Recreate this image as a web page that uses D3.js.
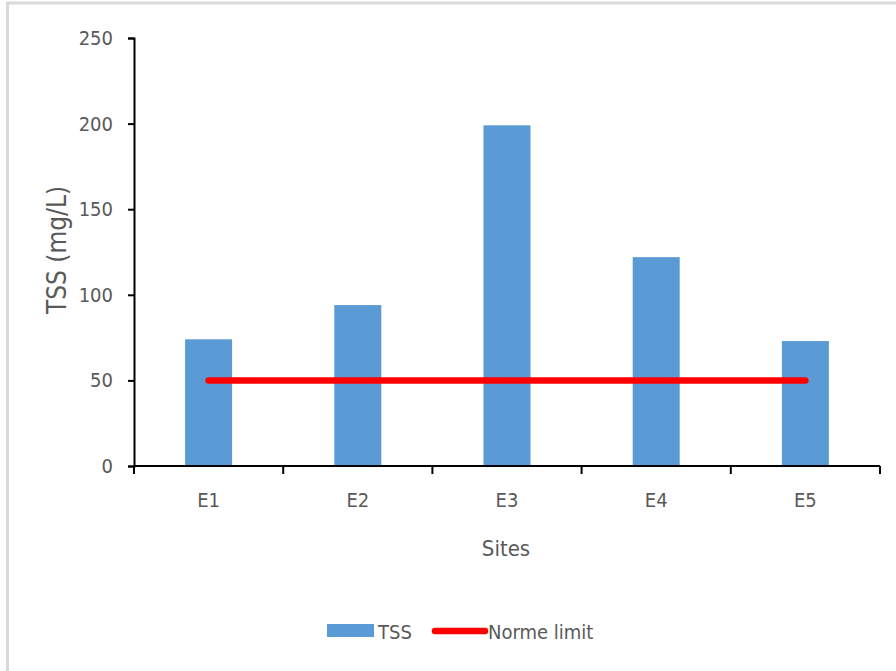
<!DOCTYPE html>
<html><head><meta charset="utf-8">
<script src="https://cdn.jsdelivr.net/npm/d3@7"></script>
<style>
html,body{margin:0;padding:0;background:#fff;}
svg{display:block;}
text{font-family:"DejaVu Sans Condensed","DejaVu Sans",sans-serif;fill:#595959;}
</style></head>
<body>
<svg id="chart" width="896" height="671"></svg>
<script>
const categories = ["E1","E2","E3","E4","E5"];
const tssValues = [74, 94, 199, 122, 73];
const normeLimit = [50, 50, 50, 50, 50];
const yTicks = [0, 50, 100, 150, 200, 250];
const seriesNames = ["TSS", "Norme limit"];

(function(){
const svg = d3.select("#chart");
svg.append("rect").attr("x",7.5).attr("y",3).attr("width",900).attr("height",700)
  .attr("fill","#fff").attr("stroke","#d9d9d9").attr("stroke-width",3);

const pl = 134, pr = 880, pt = 38, pb = 466;
const x = d3.scaleBand().domain(categories).range([pl, pr]).paddingInner(0).paddingOuter(0);
const xc = d3.scalePoint().domain(categories).range([pl, pr]).padding(0.5);
const y = d3.scaleLinear().domain([0, 250]).range([pb, pt]);

// bars
svg.append("g").selectAll("rect").data(categories).join("rect")
  .attr("x", d => xc(d) - 23.5)
  .attr("width", 47)
  .attr("y", (d,i) => y(tssValues[i]))
  .attr("height", (d,i) => pb - y(tssValues[i]))
  .attr("fill", "#5b9bd5");

// y axis
const yAxis = svg.append("g").attr("transform", `translate(${pl},0)`)
  .call(d3.axisLeft(y).tickValues(yTicks).tickSize(6).tickPadding(15));
yAxis.select(".domain").attr("stroke","#000").attr("stroke-width",2);
yAxis.selectAll(".tick line").attr("stroke","#000").attr("stroke-width",2);
yAxis.selectAll("text").style("font-size","20px").style("fill","#595959");

// x axis
const xAxis = svg.append("g").attr("transform", `translate(0,${pb})`)
  .call(d3.axisBottom(x).tickSize(0).tickPadding(27));
xAxis.select(".domain").attr("stroke","#000").attr("stroke-width",2).attr("d", `M${pl},0H${pr}`);
xAxis.selectAll("text").style("font-size","20px").style("fill","#595959");
// boundary ticks
const step = x.step();
const bTicks = d3.range(categories.length+1).map(i => pl + i*step);
svg.append("g").selectAll("line").data(bTicks).join("line")
  .attr("x1", d=>d).attr("x2", d=>d).attr("y1", pb).attr("y2", pb+8)
  .attr("stroke","#000").attr("stroke-width",2);

// norm line
const line = d3.line().x((d,i) => xc(categories[i])).y(d => y(d));
svg.append("path").datum(normeLimit).attr("d", line)
  .attr("fill","none").attr("stroke","#ff0000").attr("stroke-width",6.5).attr("stroke-linecap","round");

// axis titles
svg.append("text").attr("x", (pl+pr)/2 - 1).attr("y", 556).attr("text-anchor","middle")
  .style("font-size","22px").text("Sites");
svg.append("text").attr("transform", `translate(66,${(pt+pb)/2 - 2}) rotate(-90)`).attr("text-anchor","middle")
  .style("font-size","26px").text("TSS (mg/L)");

// legend
const lg = svg.append("g");
lg.append("rect").attr("x",327).attr("y",624).attr("width",47).attr("height",13).attr("fill","#5b9bd5");
lg.append("text").attr("x",378).attr("y",639).style("font-size","20px").text(seriesNames[0]);
lg.append("line").attr("x1",435).attr("x2",485).attr("y1",631).attr("y2",631)
  .attr("stroke","#ff0000").attr("stroke-width",6.5).attr("stroke-linecap","round");
lg.append("text").attr("x",488).attr("y",639).style("font-size","20px").text(seriesNames[1]);
})();
</script>
</body></html>
